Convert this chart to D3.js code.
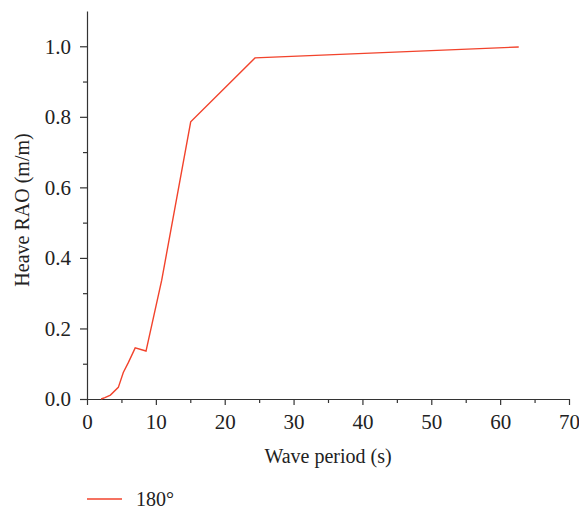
<!DOCTYPE html>
<html>
<head>
<meta charset="utf-8">
<script src="https://cdn.jsdelivr.net/npm/d3@7"></script>
<style>
  body { margin: 0; background: #fff; }
  svg text { font-family: 'Liberation Serif', 'DejaVu Serif', serif; fill: #222; }
</style>
</head>
<body>
<svg id="chart" width="579" height="510"></svg>
<script>
// heave RAO, 180 deg heading
const period = [2.05, 2.6, 3.4, 4.55, 5.27, 6.0, 7.0, 8.57, 10.85, 15.06, 24.4, 62.7];
const rao    = [0.0, 0.004, 0.011, 0.033, 0.075, 0.103, 0.145, 0.136, 0.337, 0.786, 0.967, 0.998];
const xTicks = [0, 10, 20, 30, 40, 50, 60, 70];
const yTicks = [0.0, 0.2, 0.4, 0.6, 0.8, 1.0];
const seriesName = "180°";

const svg = d3.select("#chart");
const mLeft = 87, mRight = 569, mTop = 11, mBottom = 399;
const lineColor = "#f2432c";
const serif = "'Liberation Serif', 'DejaVu Serif', serif";

const x = d3.scaleLinear().domain([0, 70]).range([mLeft, mRight]);
const y = d3.scaleLinear().domain([0, 1.1]).range([mBottom, mTop]);

// minor ticks first
svg.append("g")
    .attr("transform", `translate(0,${mBottom})`)
    .call(d3.axisBottom(x).tickValues(d3.range(5, 70, 10)).tickSize(4).tickFormat(""))
    .call(g => g.select(".domain").remove());
svg.append("g")
    .attr("transform", `translate(${mLeft},0)`)
    .call(d3.axisLeft(y).tickValues(d3.range(0.1, 1.1, 0.2)).tickSize(4).tickFormat(""))
    .call(g => g.select(".domain").remove());

svg.append("g")
    .attr("class", "axis")
    .attr("transform", `translate(0,${mBottom})`)
    .call(d3.axisBottom(x).tickValues(xTicks).tickSize(6).tickPadding(9).tickSizeOuter(0).tickFormat(d3.format("d")));
svg.append("g")
    .attr("class", "axis")
    .attr("transform", `translate(${mLeft},0)`)
    .call(d3.axisLeft(y).tickValues(yTicks).tickSize(7).tickPadding(9).tickSizeOuter(0).tickFormat(d3.format(".1f")));

svg.selectAll(".axis").attr("font-family", serif).attr("font-size", 21);
svg.selectAll(".tick line, .domain").attr("stroke", "#333").attr("stroke-width", 1.2);
svg.selectAll(".tick text").attr("fill", "#222");

// line
const line = d3.line().x((d, i) => x(period[i])).y(d => y(d));
svg.append("path")
    .datum(rao)
    .attr("d", line)
    .attr("fill", "none")
    .attr("stroke", lineColor)
    .attr("stroke-width", 1.4);

// axis titles
svg.append("text")
    .attr("x", 328)
    .attr("y", 463)
    .attr("text-anchor", "middle")
    .attr("font-family", serif)
    .attr("font-size", 20)
    .text("Wave period (s)");

svg.append("text")
    .attr("transform", `translate(29,${(mTop + mBottom) / 2 + 5}) rotate(-90)`)
    .attr("text-anchor", "middle")
    .attr("font-family", serif)
    .attr("font-size", 20)
    .text("Heave RAO (m/m)");

// legend
svg.append("line")
    .attr("x1", 87).attr("x2", 122)
    .attr("y1", 499).attr("y2", 499)
    .attr("stroke", lineColor).attr("stroke-width", 1.4);
svg.append("text")
    .attr("x", 136).attr("y", 506)
    .attr("font-family", serif)
    .attr("font-size", 20)
    .text(seriesName);
</script>
</body>
</html>
